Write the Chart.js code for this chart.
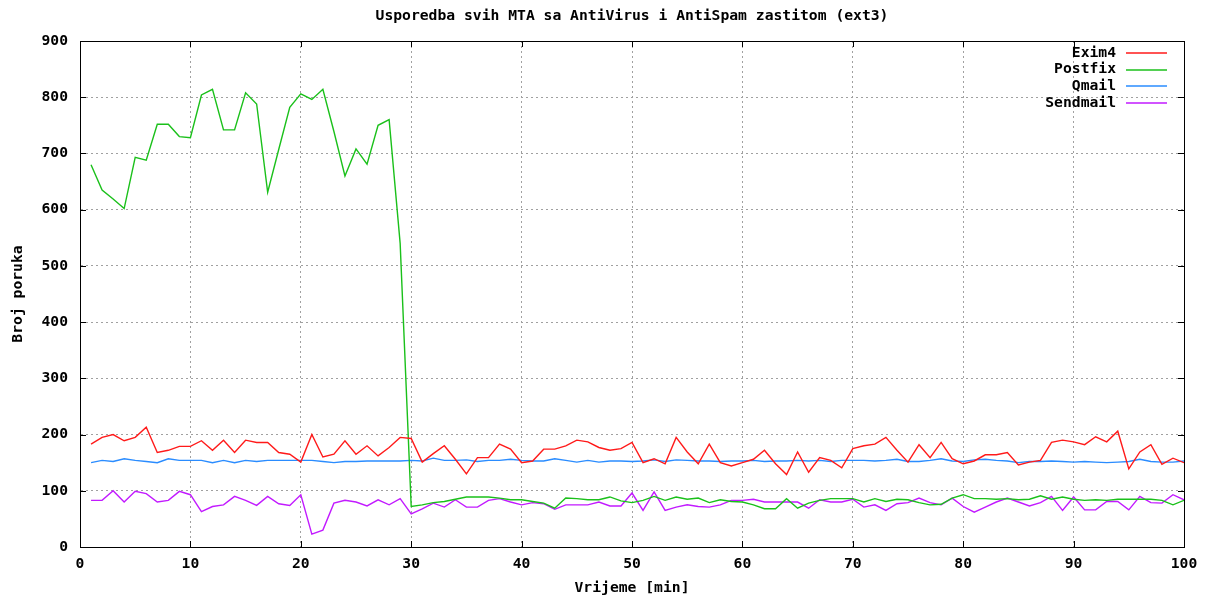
<!DOCTYPE html>
<html>
<head>
<meta charset="utf-8">
<script src="https://cdn.jsdelivr.net/npm/chart.js@4/dist/chart.umd.min.js"></script>
<style>
    html, body { margin: 0; background: #fff; }
</style>
</head>
<body>
<canvas id="mta-chart" width="1209" height="601"></canvas>
<script>
// Minutes on the x axis
const minutes = Array.from({ length: 100 }, (_, i) => i + 1);

// Messages per minute for each MTA
const exim4 = [183, 195, 200, 189, 195, 213, 168, 172, 179, 179, 189, 172, 190, 168, 190, 186, 186, 168, 165, 151, 200, 160, 165, 189, 165,
    180, 162, 177, 195, 193, 151, 166, 180, 156, 130, 159, 159, 183, 174, 150, 153, 174, 174, 180, 190, 187, 177, 172, 175, 186,
    150, 157, 148, 195, 169, 148, 183, 150, 144, 150, 156, 172, 148, 129, 169, 133, 159, 154, 141, 175, 180, 183, 195, 172,
    151, 182, 159, 186, 157, 148, 153, 164, 164, 168, 146, 151, 154, 186, 190, 187, 182, 196, 187, 206, 139, 169, 182, 147, 158, 150];
const postfix = [680, 635, 619, 602, 693, 688, 752, 752, 730, 728, 804, 814, 742, 742, 808, 788, 631, 707, 782, 806, 796, 814, 739, 660, 708,
    681, 750, 760, 540, 72, 75, 79, 81, 85, 89, 89, 89, 87, 84, 84, 81, 78, 69, 87, 86, 84, 84, 89, 82, 79,
    83, 90, 83, 89, 85, 87, 79, 84, 81, 80, 75, 68, 68, 86, 69, 78, 83, 86, 86, 86, 80, 86, 81, 85,
    84, 79, 75, 76, 87, 93, 86, 86, 85, 86, 84, 85, 91, 85, 89, 85, 83, 84, 83, 85, 85, 85, 85, 83, 75, 83];
const qmail = [150, 154, 152, 157, 154, 152, 150, 157, 154, 154, 154, 150, 154, 150, 154, 152, 154, 154, 154, 154, 154, 152, 150, 152, 152,
    153, 153, 153, 153, 154, 153, 158, 154, 154, 155, 152, 154, 154, 156, 154, 153, 153, 157, 154, 151, 154, 151, 153, 153, 152,
    153, 155, 152, 155, 154, 153, 153, 152, 153, 153, 154, 152, 153, 153, 154, 153, 154, 152, 154, 154, 154, 153, 154, 156,
    152, 152, 154, 157, 153, 152, 155, 156, 154, 153, 150, 152, 152, 153, 152, 151, 152, 151, 150, 151, 152, 156, 152, 151, 151, 153];
const sendmail = [83, 83, 100, 80, 99, 95, 80, 83, 99, 93, 63, 72, 75, 90, 83, 74, 90, 77, 74, 93, 23, 30, 78, 83, 80,
    73, 84, 75, 86, 59, 68, 78, 71, 84, 71, 71, 83, 86, 80, 75, 79, 77, 67, 75, 75, 75, 80, 73, 73, 96,
    65, 98, 65, 71, 75, 72, 71, 75, 83, 83, 85, 80, 80, 80, 80, 69, 84, 80, 80, 85, 71, 75, 65, 77,
    79, 87, 79, 75, 87, 72, 62, 71, 80, 87, 80, 73, 79, 90, 65, 89, 66, 66, 81, 81, 66, 90, 79, 78, 93, 84];

const seriesNames = ['Exim4', 'Postfix', 'Qmail', 'Sendmail'];
const seriesColors = ['#ff1a1a', '#1ac01a', '#2a8cff', '#c21aff'];

const FONT_FAMILY = '"DejaVu Sans Mono", "Liberation Mono", monospace';
const FONT_SIZE = 14.7;
const CSS_FONT = 'bold ' + FONT_SIZE + 'px ' + FONT_FAMILY;

function toPoints(values) {
    return values.map((v, i) => ({ x: minutes[i], y: v }));
}

// Frame, inward ticks, title and legend in the gnuplot way
const gnuplotFrame = {
    id: 'gnuplotFrame',
    afterDatasetsDraw(chart) {
        const ctx = chart.ctx;
        const area = chart.chartArea;
        const xs = chart.scales.x;
        const ys = chart.scales.y;
        ctx.save();
        ctx.setLineDash([]);
        ctx.strokeStyle = '#000';
        ctx.lineWidth = 1;
        ctx.strokeRect(area.left + 0.5, area.top + 0.5, area.right - area.left, area.bottom - area.top);
        ctx.beginPath();
        xs.ticks.forEach(t => {
            const px = Math.round(xs.getPixelForValue(t.value)) + 0.5;
            ctx.moveTo(px, area.bottom); ctx.lineTo(px, area.bottom - 6);
            ctx.moveTo(px, area.top); ctx.lineTo(px, area.top + 6);
        });
        ys.ticks.forEach(t => {
            const py = Math.round(ys.getPixelForValue(t.value)) + 0.5;
            ctx.moveTo(area.left, py); ctx.lineTo(area.left + 6, py);
            ctx.moveTo(area.right, py); ctx.lineTo(area.right - 6, py);
        });
        ctx.stroke();

        // title
        ctx.fillStyle = '#000';
        ctx.font = CSS_FONT;
        ctx.textAlign = 'center';
        ctx.textBaseline = 'middle';
        ctx.fillText('Usporedba svih MTA sa AntiVirus i AntiSpam zastitom (ext3)', (area.left + area.right) / 2, 16);

        // legend
        ctx.textAlign = 'right';
        seriesNames.forEach((name, i) => {
            const y = 53 + i * 16.6;
            ctx.fillStyle = '#000';
            ctx.fillText(name, 1116, y);
            ctx.strokeStyle = seriesColors[i];
            ctx.lineWidth = 1.6;
            ctx.beginPath();
            ctx.moveTo(1126, Math.round(y));
            ctx.lineTo(1167, Math.round(y));
            ctx.stroke();
        });
        ctx.restore();
    }
};

document.addEventListener('DOMContentLoaded', function () {
    const canvas = document.getElementById('mta-chart');
    const allSeries = [exim4, postfix, qmail, sendmail];

    new Chart(canvas.getContext('2d'), {
        type: 'line',
        data: {
            datasets: allSeries.map((values, i) => ({
                label: seriesNames[i],
                data: toPoints(values),
                borderColor: seriesColors[i],
                backgroundColor: seriesColors[i],
                borderWidth: 1.4,
                pointRadius: 0,
                tension: 0,
                fill: false
            }))
        },
        options: {
            responsive: false,
            animation: false,
            layout: { padding: { top: 41, right: 25, left: 0, bottom: 0 } },
            plugins: {
                legend: { display: false },
                tooltip: { enabled: false },
                title: { display: false }
            },
            scales: {
                x: {
                    type: 'linear',
                    min: 0,
                    max: 100,
                    afterFit: scale => { scale.height = 54; },
                    ticks: {
                        stepSize: 10,
                        color: '#000',
                        padding: 8,
                        maxRotation: 0,
                        font: { family: FONT_FAMILY, size: FONT_SIZE, weight: 'bold' }
                    },
                    grid: { color: '#a0a0a0', drawTicks: false },
                    border: { color: '#000', dash: [2, 3] },
                    title: {
                        display: true,
                        text: 'Vrijeme [min]',
                        color: '#000',
                        padding: { top: 0, bottom: 4 },
                        font: { family: FONT_FAMILY, size: FONT_SIZE, weight: 'bold' }
                    }
                },
                y: {
                    min: 0,
                    max: 900,
                    afterFit: scale => { scale.width = 80; },
                    ticks: {
                        stepSize: 100,
                        color: '#000',
                        padding: 12,
                        font: { family: FONT_FAMILY, size: FONT_SIZE, weight: 'bold' }
                    },
                    grid: { color: '#a0a0a0', drawTicks: false },
                    border: { color: '#000', dash: [2, 3] },
                    title: {
                        display: true,
                        text: 'Broj poruka',
                        color: '#000',
                        padding: { top: 9, bottom: 0 },
                        font: { family: FONT_FAMILY, size: FONT_SIZE, weight: 'bold' }
                    }
                }
            }
        },
        plugins: [gnuplotFrame]
    });
});
</script>
</body>
</html>
